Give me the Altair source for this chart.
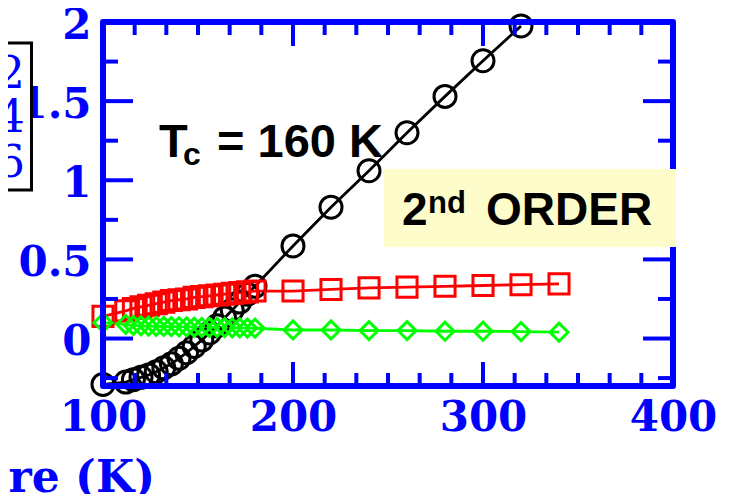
import altair as alt
import pandas as pd

# ---- data ----
T_dense = [100, 112, 116, 120, 124, 128, 132, 136, 140, 144, 148, 152, 156, 160, 164, 168, 172, 176, 180]
T_sparse_black = [200, 220, 240, 260, 280, 300, 320]
T_sparse = [200, 220, 240, 260, 280, 300, 320, 340]

black_dense = [-0.29, -0.275, -0.26, -0.245, -0.23, -0.21, -0.185, -0.16, -0.125, -0.09,
               -0.05, -0.01, 0.035, 0.08, 0.13, 0.18, 0.23, 0.28, 0.33]
black_sparse = [0.585, 0.83, 1.06, 1.30, 1.53, 1.755, 1.975]
red_dense = [0.14, 0.175, 0.19, 0.20, 0.21, 0.22, 0.23, 0.24, 0.245, 0.25,
             0.26, 0.265, 0.27, 0.275, 0.28, 0.285, 0.29, 0.295, 0.30]
red_sparse = [0.30, 0.31, 0.32, 0.325, 0.33, 0.335, 0.34, 0.345]
green_dense = [0.10, 0.09, 0.083, 0.08, 0.078, 0.077, 0.076, 0.075, 0.074, 0.073,
               0.072, 0.071, 0.07, 0.07, 0.069, 0.068, 0.067, 0.066, 0.065]
green_sparse = [0.054, 0.054, 0.05, 0.05, 0.046, 0.046, 0.044, 0.04]

series_names = ["2", "4", "6"]
series_colors = ["#000000", "#ff0000", "#00ff00"]
series_shapes = ["circle", "square", "diamond"]
series_sizes = [484, 324, 484]

x_labels = [100, 200, 300, 400]
y_labels = [0, 0.5, 1, 1.5, 2]
x_major = [200, 300]
x_minor = [100 + k * 100 / 6 for k in range(1, 18) if k % 6 != 0]
y_major = [0, 0.5, 1.0, 1.5]
y_minor = [-0.25, 0.25, 0.75, 1.25, 1.75]

rows = []
for T, v in zip(T_dense + T_sparse_black, black_dense + black_sparse):
    rows.append({"T": T, "v": v, "s": "2"})
for T, v in zip(T_dense + T_sparse, red_dense + red_sparse):
    rows.append({"T": T, "v": v, "s": "4"})
for T, v in zip(T_dense + T_sparse, green_dense + green_sparse):
    rows.append({"T": T, "v": v, "s": "6"})
df = pd.DataFrame(rows)

W, H = 570, 364
BLUE = "#0000ff"

xs = alt.Scale(domain=[100, 400], nice=False, zero=False)
ys = alt.Scale(domain=[-0.3, 2.0], nice=False, zero=False)
x_axis = alt.Axis(values=x_labels, title=None, ticks=False, tickSize=0, domain=False, grid=False,
                  labelFont="DejaVu Serif", labelFontWeight="bold", labelFontSize=42,
                  labelColor=BLUE, labelPadding=11, labelFlush=False, labelOverlap=False, zindex=0)
y_axis = alt.Axis(values=y_labels, format="~g", title=None, ticks=False, tickSize=0, domain=False,
                  grid=False, labelFont="DejaVu Serif", labelFontWeight="bold", labelFontSize=42,
                  labelColor=BLUE, labelPadding=12, labelFlush=False, labelOverlap=False,
                  labelBaseline="middle", labelOffset=3, zindex=0)

color = alt.Color("s:N", scale=alt.Scale(domain=series_names, range=series_colors), legend=None)
shape = alt.Shape("s:N", scale=alt.Scale(domain=series_names, range=series_shapes), legend=None)
size = alt.Size("s:N", scale=alt.Scale(domain=series_names, range=series_sizes), legend=None)

base = alt.Chart(df).encode(
    x=alt.X("T:Q", scale=xs, axis=x_axis),
    y=alt.Y("v:Q", scale=ys, axis=y_axis),
)
lines = base.mark_line(strokeWidth=2.8).encode(color=color, detail="s:N")
points = base.mark_point(filled=False, strokeWidth=3, opacity=1).encode(color=color, shape=shape, size=size)


def xticks(vals, y0, y1):
    return alt.Chart(pd.DataFrame({"tv": vals})).mark_rule(color=BLUE, strokeWidth=4).encode(
        x=alt.X("tv:Q", scale=xs, axis=x_axis), y=alt.value(y0), y2=alt.value(y1))


def yticks(vals, x0, x1):
    return alt.Chart(pd.DataFrame({"tv": vals})).mark_rule(color=BLUE, strokeWidth=4).encode(
        y=alt.Y("tv:Q", scale=ys, axis=y_axis), x=alt.value(x0), x2=alt.value(x1))


ticks = [
    xticks(x_major, H, H - 24), xticks(x_minor, H, H - 13),
    xticks(x_major, 0, 24), xticks(x_minor, 0, 13),
    yticks(y_major, 0, 30), yticks(y_minor, 0, 15),
    yticks(y_major, W, W - 30), yticks(y_minor, W, W - 15),
]

one = pd.DataFrame({"a": [0]})
frame = alt.Chart(one).mark_rect(filled=False, stroke=BLUE, strokeWidth=6, strokeJoin="round").encode(
    x=alt.value(0), x2=alt.value(W), y=alt.value(0), y2=alt.value(H))

ybox = alt.Chart(one).mark_rect(color="#fffccc").encode(
    x=alt.value(281), x2=alt.value(573), y=alt.value(147), y2=alt.value(225))

legbox = alt.Chart(one).mark_rect(fill="white", stroke="black", strokeWidth=3).encode(
    x=alt.value(-160), x2=alt.value(-71.5), y=alt.value(21), y2=alt.value(168))


def txt(s, x, y, size, font="Liberation Sans", weight="bold", color="black", align="left"):
    return alt.Chart(one).mark_text(text=s, font=font, fontSize=size, fontWeight=weight, color=color,
                                    align=align, baseline="alphabetic").encode(
        x=alt.value(x), y=alt.value(y))


texts = [
    txt("T", 56, 135, 47),
    txt("c", 80, 143, 32),
    txt("= 160 K", 114, 135, 47),
    txt("2", 299, 203, 46),
    txt("nd", 325, 191, 31),
    txt("ORDER", 383, 203, 46),
    txt("2", -78, 66, 45, font="DejaVu Serif", weight="normal", color=BLUE, align="right"),
    txt("4", -78, 110, 45, font="DejaVu Serif", weight="normal", color=BLUE, align="right"),
    txt("6", -78, 155, 45, font="DejaVu Serif", weight="normal", color=BLUE, align="right"),
    txt("Temperature (K)", 52, 470, 44, font="DejaVu Serif", weight="bold", color=BLUE, align="right"),
]

chart = alt.layer(lines, points, *ticks, frame, ybox, legbox, *texts).properties(
    width=W, height=H,
    autosize=alt.AutoSizeParams(type="none"),
    padding={"left": 95, "top": 14, "right": 48, "bottom": 108},
    background="white",
).configure_view(stroke="transparent")

chart.save("out.html", embed_options={"renderer": "svg", "actions": False})
